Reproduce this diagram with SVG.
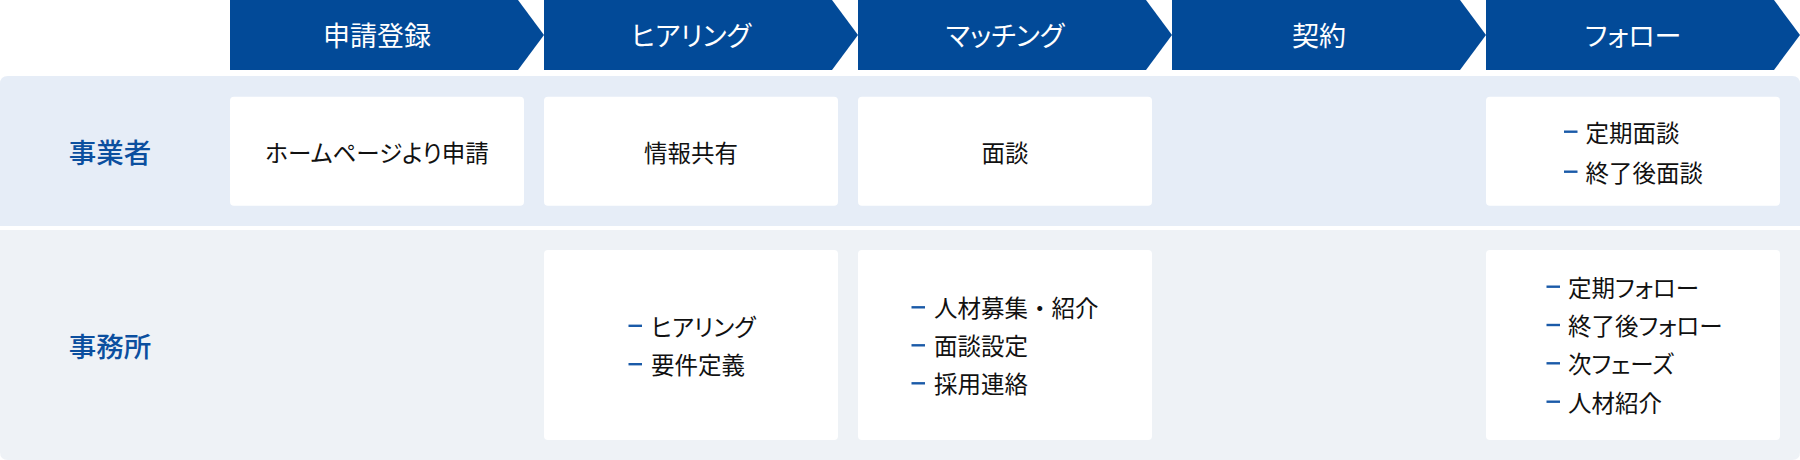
<svg xmlns="http://www.w3.org/2000/svg" width="1800" height="460" viewBox="0 0 1800 460">
<style>
  text { font-family: "Noto Sans CJK JP", "Noto Sans", "Liberation Sans", sans-serif; dominant-baseline: central; font-feature-settings: "palt"; }
  .step { fill: #024a98; }
  .stepText { fill: #ffffff; font-size: 27px; text-anchor: middle; }
  .band1 { fill: #e6edf7; }
  .band2 { fill: #eef2f6; }
  .role { fill: #0b4f9f; font-size: 27.5px; text-anchor: middle; font-weight: 500; }
  .box { fill: #ffffff; }
  .item { fill: #111111; font-size: 23.5px; }
  .center { text-anchor: middle; }
  .nopalt { font-feature-settings: normal; }
  .dash { fill: #1a5aa8; }
</style>
<defs>
  <polygon id="chev" points="0,0 288,0 314,35 288,70 0,70"/>
  <rect id="dash" width="13.5" height="2.4" y="-1.2"/>
</defs>

<g id="bands">
  <path class="band1" d="M0,84 Q0,76 8,76 L1792,76 Q1800,76 1800,84 L1800,226 L0,226 Z"/>
  <path class="band2" d="M0,230 L1800,230 L1800,452 Q1800,460 1792,460 L8,460 Q0,460 0,452 Z"/>
</g>

<g id="connectors"></g>

<g id="step-1">
  <use href="#chev" x="230" class="step"/>
  <text class="stepText" x="377" y="34.5">申請登録</text>
</g>
<g id="step-2">
  <use href="#chev" x="544" class="step"/>
  <text class="stepText" x="691" y="34.5">ヒアリング</text>
</g>
<g id="step-3">
  <use href="#chev" x="858" class="step"/>
  <text class="stepText" x="1005" y="34.5">マッチング</text>
</g>
<g id="step-4">
  <use href="#chev" x="1172" class="step"/>
  <text class="stepText" x="1319" y="34.5">契約</text>
</g>
<g id="step-5">
  <use href="#chev" x="1486" class="step"/>
  <text class="stepText" x="1633" y="34.5">フォロー</text>
</g>

<g id="role-jigyosha">
  <text class="role" x="110" y="151">事業者</text>
</g>
<g id="role-jimusho">
  <text class="role" x="110" y="344.5">事務所</text>
</g>

<g id="r1-c1">
  <rect class="box" x="230" y="96.7" width="294" height="109" rx="4"/>
  <text class="item center" x="377" y="151.5">ホームページより申請</text>
</g>
<g id="r1-c2">
  <rect class="box" x="544" y="96.7" width="294" height="109" rx="4"/>
  <text class="item center" x="691" y="151.5">情報共有</text>
</g>
<g id="r1-c3">
  <rect class="box" x="858" y="96.7" width="294" height="109" rx="4"/>
  <text class="item center" x="1005" y="151.5">面談</text>
</g>
<g id="r1-c5">
  <rect class="box" x="1486" y="96.7" width="294" height="109" rx="4"/>
  <use href="#dash" class="dash" x="1564" y="131.7"/>
  <text class="item" x="1585.5" y="131.7">定期面談</text>
  <use href="#dash" class="dash" x="1564" y="171.7"/>
  <text class="item" x="1585.5" y="171.7">終了後面談</text>
</g>

<g id="r2-c2">
  <rect class="box" x="544" y="250" width="294" height="190" rx="4"/>
  <use href="#dash" class="dash" x="628.5" y="325.8"/>
  <text class="item" x="651" y="325.8">ヒアリング</text>
  <use href="#dash" class="dash" x="628.5" y="364.2"/>
  <text class="item" x="651" y="364.2">要件定義</text>
</g>
<g id="r2-c3">
  <rect class="box" x="858" y="250" width="294" height="190" rx="4"/>
  <use href="#dash" class="dash" x="911.5" y="307.3"/>
  <text class="item nopalt" x="934" y="307.3">人材募集・紹介</text>
  <use href="#dash" class="dash" x="911.5" y="345.3"/>
  <text class="item" x="934" y="345.3">面談設定</text>
  <use href="#dash" class="dash" x="911.5" y="383.3"/>
  <text class="item" x="934" y="383.3">採用連絡</text>
</g>
<g id="r2-c5">
  <rect class="box" x="1486" y="250" width="294" height="190" rx="4"/>
  <use href="#dash" class="dash" x="1546.5" y="286.7"/>
  <text class="item" x="1568" y="286.7">定期フォロー</text>
  <use href="#dash" class="dash" x="1546.5" y="325"/>
  <text class="item" x="1568" y="325">終了後フォロー</text>
  <use href="#dash" class="dash" x="1546.5" y="363.3"/>
  <text class="item" x="1568" y="363.3">次フェーズ</text>
  <use href="#dash" class="dash" x="1546.5" y="401.7"/>
  <text class="item" x="1568" y="401.7">人材紹介</text>
</g>
</svg>
